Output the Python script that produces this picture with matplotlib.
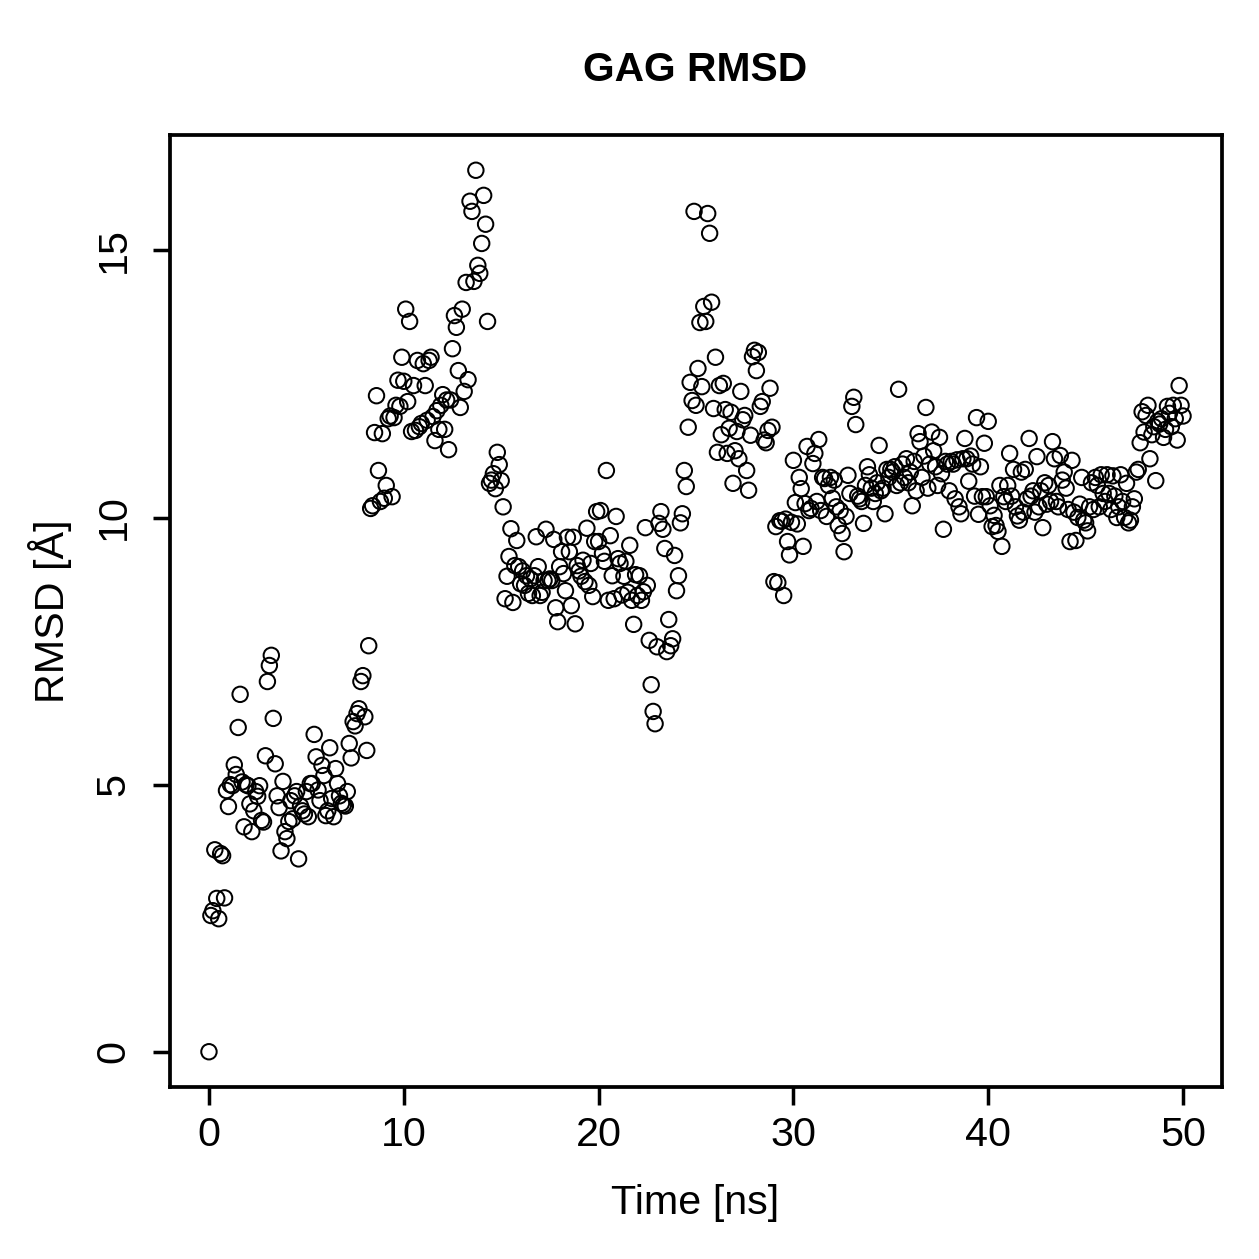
import numpy as np
import matplotlib
matplotlib.use("Agg")
import matplotlib.pyplot as plt

plt.rcParams['font.family'] = ['Liberation Sans', 'DejaVu Sans']

# RMSD of the GAG, one frame every 0.1 ns
rmsd = [
    0.0, 2.55, 2.64, 3.78, 2.87, 2.49, 3.71, 3.67, 2.88, 4.89,
    4.59, 5.0, 4.98, 5.37, 5.19, 6.07, 6.69, 5.05, 4.21, 5.0,
    4.98, 4.64, 4.12, 4.51, 4.87, 4.78, 4.98, 4.33, 4.3, 5.54,
    6.93, 7.23, 7.42, 6.24, 5.39, 4.79, 4.57, 3.76, 5.06, 4.12,
    3.99, 4.31, 4.7, 4.36, 4.79, 4.87, 3.61, 4.6, 4.51, 4.45,
    4.87, 4.4, 5.02, 5.02, 5.94, 5.52, 4.9, 4.7, 5.36, 5.17,
    4.42, 4.51, 5.69, 4.74, 4.4, 5.3, 5.02, 4.79, 4.65, 4.62,
    4.6, 4.87, 5.77, 5.5, 6.18, 6.1, 6.33, 6.42, 6.93, 7.04,
    6.27, 5.64, 7.6, 10.17, 10.22, 11.59, 12.28, 10.88, 10.3, 11.57,
    10.36, 10.6, 11.85, 11.9, 10.39, 11.87, 12.1, 12.57, 12.08, 13.0,
    12.55, 13.9, 12.17, 13.67, 11.61, 12.47, 11.63, 12.94, 11.7, 11.76,
    12.88, 12.47, 11.82, 12.94, 13.0, 11.89, 11.44, 12.0, 11.65, 12.1,
    12.3, 11.65, 12.2, 11.27, 12.2, 13.16, 13.78, 13.56, 12.75, 12.06,
    13.9, 12.36, 14.4, 12.58, 15.92, 15.73, 14.42, 16.5, 14.72, 14.57,
    15.13, 16.03, 15.49, 13.67, 10.64, 10.7, 10.82, 10.54, 11.22, 10.99,
    10.69, 10.2, 8.48, 8.9, 9.27, 9.79, 8.41, 9.1, 9.57, 9.08,
    8.76, 9.0, 8.73, 8.91, 8.58, 8.85, 8.54, 8.91, 9.64, 9.08,
    8.54, 8.6, 8.82, 9.78, 8.82, 8.85, 8.82, 9.59, 8.31, 8.05,
    9.08, 9.36, 8.95, 8.63, 9.63, 9.36, 8.35, 9.63, 8.01, 9.1,
    9.0, 8.9, 9.2, 8.8, 9.8, 8.73, 9.14, 8.52, 9.55, 10.11,
    9.55, 10.13, 9.33, 9.18, 10.88, 8.45, 9.66, 8.91, 8.48, 10.02,
    9.23, 9.14, 8.55, 8.9, 9.18, 8.6, 9.48, 8.45, 8.0, 8.93,
    8.54, 8.91, 8.45, 8.61, 9.81, 8.73, 7.70, 6.87, 6.37, 6.14,
    7.58, 9.89, 10.11, 9.78, 9.42, 7.49, 8.09, 7.6, 7.73, 9.29,
    8.63, 8.91, 9.9, 10.07, 10.88, 10.58, 11.69, 12.53, 12.19, 15.73,
    12.1, 12.79, 13.65, 12.45, 13.95, 13.67, 15.69, 15.32, 14.03, 12.04,
    13.0, 11.22, 12.47, 11.55, 12.51, 12.02, 11.2, 11.67, 11.97, 10.64,
    11.25, 11.61, 11.1, 12.36, 11.83, 11.91, 10.88, 10.51, 11.54, 13.01,
    13.13, 12.75, 13.09, 12.08, 12.17, 11.45, 11.4, 11.63, 12.42, 11.69,
    8.8, 9.83, 8.78, 9.94, 9.93, 8.54, 9.97, 9.55, 9.3, 9.91,
    11.07, 10.28, 9.88, 10.75, 10.54, 9.46, 10.26, 11.33, 10.13, 10.17,
    11.01, 11.2, 10.3, 11.46, 10.13, 10.75, 10.73, 10.02, 10.6, 10.75,
    10.36, 10.7, 10.2, 9.85, 10.13, 9.7, 9.36, 10.02, 10.79, 10.45,
    12.08, 12.25, 11.74, 10.4, 10.35, 10.3, 9.89, 10.6, 10.95, 10.8,
    10.55, 10.3, 10.45, 10.65, 11.35, 10.5, 10.55, 10.07, 10.9, 10.75,
    10.9, 10.85, 10.95, 10.6, 12.4, 10.65, 11.0, 10.75, 11.1, 10.65,
    10.85, 10.22, 11.05, 10.5, 11.57, 11.42, 10.75, 11.15, 12.06, 10.55,
    11.0, 11.6, 11.25, 10.95, 10.6, 11.5, 10.82, 9.78, 11.05, 11.0,
    10.5, 11.05, 11.0, 10.35, 11.08, 10.2, 10.07, 11.1, 11.48, 11.1,
    10.68, 11.15, 11.0, 10.4, 11.87, 10.06, 10.95, 10.39, 11.39, 10.39,
    11.8, 10.22, 9.83, 10.04, 9.85, 9.74, 10.6, 9.46, 10.39, 10.3,
    10.6, 11.2, 10.4, 10.9, 10.2, 10.03, 9.95, 10.85, 10.1, 10.9,
    10.35, 11.48, 10.4, 10.5, 10.1, 11.14, 10.2, 10.5, 9.81, 10.65,
    10.25, 10.6, 10.3, 11.42, 11.1, 10.3, 10.2, 11.16, 10.7, 10.85,
    10.55, 10.15, 9.55, 11.07, 10.1, 9.57, 10.0, 10.25, 10.75, 9.95,
    9.9, 9.75, 10.2, 10.65, 10.15, 10.75, 10.6, 10.2, 10.8, 10.45,
    10.3, 10.8, 10.45, 10.15, 10.78, 10.4, 10.0, 10.2, 10.8, 10.3,
    10.0, 10.64, 9.9, 9.95, 10.2, 10.35, 10.85, 10.9, 11.4, 11.98,
    11.6, 11.91, 12.1, 11.1, 11.55, 11.7, 10.69, 11.8, 11.75, 11.85,
    11.5, 11.65, 12.08, 11.95, 11.7, 12.1, 11.85, 11.45, 12.47, 12.1,
    11.9,
]
time_ns = np.arange(len(rmsd)) * 0.1

x_ticks = [0, 10, 20, 30, 40, 50]
y_ticks = [0, 5, 10, 15]

W = 1259
fig = plt.figure(figsize=(W / 180, W / 180), dpi=180)
ax = fig.add_axes([170 / W, 1 - 1087 / W, (1222 - 170) / W, (1087 - 135) / W])

ax.scatter(time_ns, rmsd, s=38, facecolors='none', edgecolors='black', linewidths=0.8)

# R-style 4% padding
xr = time_ns.max() - time_ns.min()
yr = max(rmsd) - min(rmsd)
ax.set_xlim(time_ns.min() - 0.04 * xr, time_ns.max() + 0.04 * xr)
ax.set_ylim(min(rmsd) - 0.04 * yr, max(rmsd) + 0.04 * yr)

ax.set_xticks(x_ticks)
ax.set_yticks(y_ticks)
ax.tick_params(direction='out', length=7.0, width=1.4, labelsize=16.5, colors='black')
ax.tick_params(axis='x', pad=4.5)
ax.tick_params(axis='y', pad=8)
for lab in ax.get_yticklabels():
    lab.set_rotation(90)
    lab.set_va('center')
for sp in ax.spines.values():
    sp.set_linewidth(1.5)

fig.text(695 / W, 1 - 70 / W, "GAG RMSD", ha='center', va='center', fontsize=16.3, fontweight='bold')
fig.text(695 / W, 1 - 1203 / W, "Time [ns]", ha='center', va='center', fontsize=16.5)
fig.text(50 / W, 1 - 611 / W, "RMSD [Å]", ha='center', va='center', fontsize=16.5, rotation=90)

fig.savefig("out.png", dpi=180)
